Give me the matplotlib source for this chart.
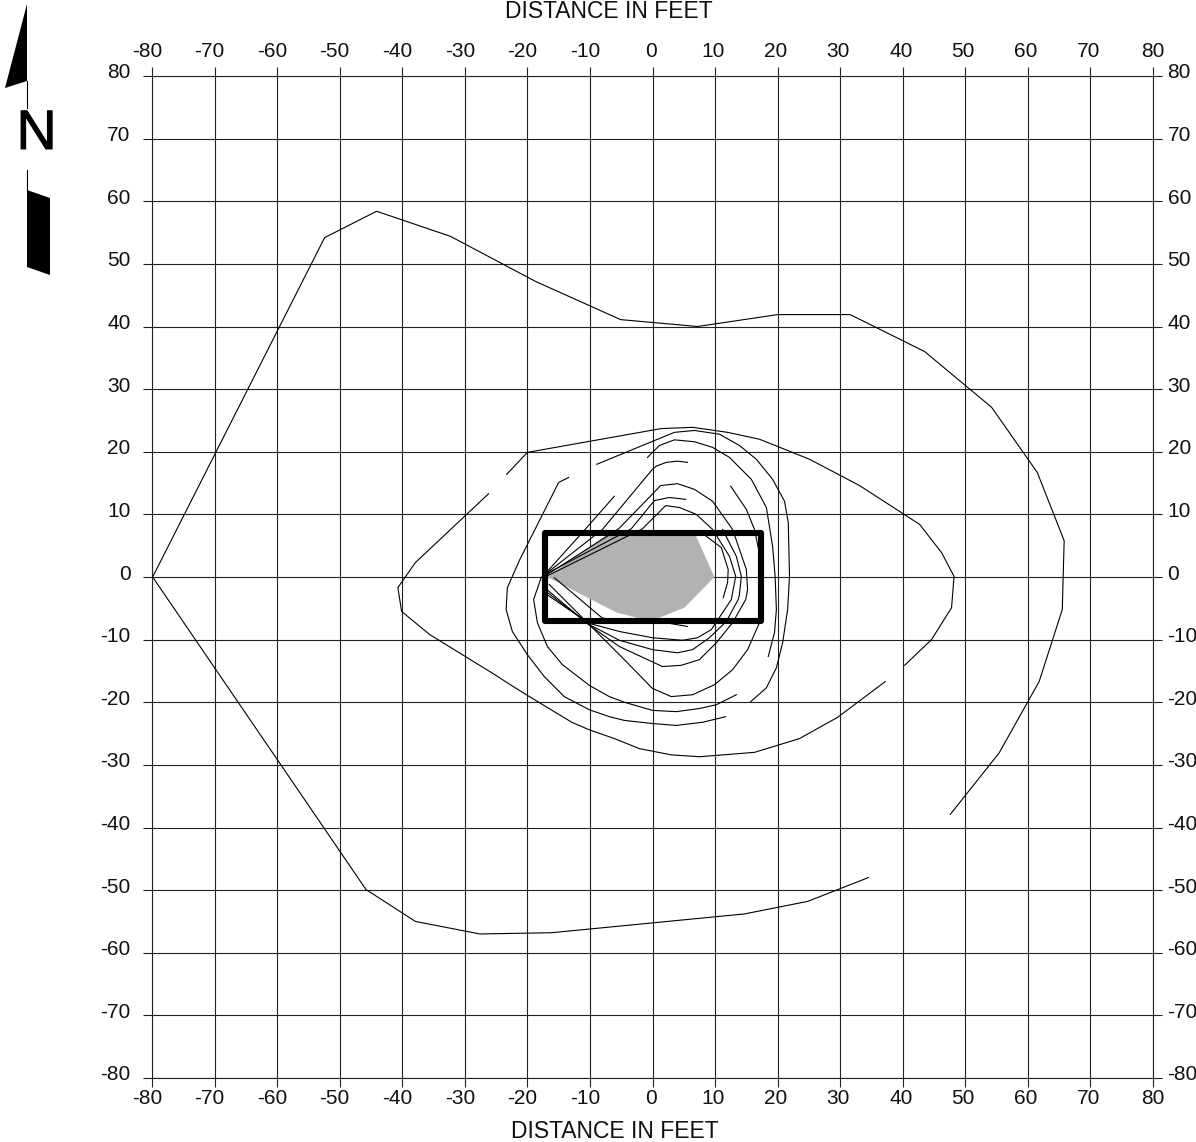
import matplotlib
matplotlib.use('Agg')
import matplotlib.pyplot as plt
import matplotlib.patheffects as pe
from matplotlib.patches import Polygon, Rectangle
from matplotlib.transforms import ScaledTranslation

plt.rcParams['font.family'] = ['Liberation Sans', 'DejaVu Sans']

W, H = 1196, 1142
ticks = list(range(-80, 90, 10))
tick_labels = [str(t) for t in ticks]
axis_title = 'DISTANCE IN FEET'

outer_x = [47.6, 55.4, 61.8, 65.5, 65.8, 61.5, 54.2, 43.5, 31.6, 20, 7.2, -5.1, -18.7, -32.3, -44.1, -52.4, -79.9, -45.8, -37.9, -27.6, -16.1, 14.7, 24.8, 34.5]
outer_y = [-37.9, -28.1, -16.7, -5.2, 5.8, 16.7, 27.1, 36, 41.9, 41.9, 40, 41.1, 47.2, 54.4, 58.4, 54.2, 0, -49.9, -55, -57, -56.8, -53.8, -51.8, -48]

b1_x = [37.2, 29.6, 23.5, 16.3, 7.5, 3, -2.1, -6.1, -10.1, -12.9, -20, -23.2, -25.2, -35.6, -40.1, -40.7, -37.9, -26.2]
b1_y = [-16.7, -22.4, -25.8, -28.0, -28.7, -28.4, -27.4, -25.8, -24.4, -23.2, -18.9, -16.9, -15.6, -9.2, -5.5, -1.7, 2.3, 13.3]
b2_x = [-23.3, -20, 1.4, 6.4, 12, 17.1, 25.1, 33.1, 42.7, 46.2, 48.2, 47.8, 44.6, 40.3]
b2_y = [16.4, 19.9, 23.7, 23.9, 23.1, 22, 18.8, 14.6, 8.4, 3.9, 0.1, -4.9, -10, -14.1]

c_x = [-8.9, 3.5, 6.7, 10.7, 13.9, 16.6, 19.2, 21.1, 21.7, 21.9, 21.6, 20.8, 19.8, 18.2, 15.7]
c_y = [18, 23.1, 23.4, 22.8, 21, 18.8, 15.6, 12.1, 8.7, 0.1, -5.2, -10.5, -14.5, -17.7, -19.9]
d_x = [-0.8, 1.1, 3.5, 6.7, 9.6, 12.3, 15.8, 18.2, 19.2, 19.6, 19.8, 19.5, 18.5]
d_y = [19.1, 21, 21.9, 21.6, 20.7, 19.1, 15.6, 11.1, 4.9, 0.1, -5.2, -8.9, -12.7]
e_x = [-13.4, -15, -21.2, -23.2, -23.4, -22.4, -20, -17.3, -14.1, -10.1, -6.9, -4.5, 0, 3.8, 8, 11.7]
e_y = [15.9, 15.1, 2.8, -1.7, -5.2, -8.7, -12.4, -15.9, -19.1, -21.2, -22.3, -22.9, -23.4, -23.7, -23.2, -22.3]
f_x = [-6.1, -10.5, -16.8, -17.8, -19, -18.4, -16.8, -14.4, -10.1, -6.9, -4.5, 0, 3.8, 7.5, 10.2, 13.4]
f_y = [12.9, 7.9, 0.9, -0.1, -3.6, -7.3, -11.1, -14, -17.3, -19.1, -20, -21.3, -21.5, -21, -20.4, -18.8]
g_x = [12.5, 15, 16.3, 17.3, 17.6, 17.1, 15.2, 12.8, 9.9, 6.4, 3, 0, -4.5, -16.5]
g_y = [14.5, 10.8, 7.6, 2.8, -3.1, -7.3, -11.6, -14.8, -17.2, -18.8, -19.1, -17.8, -13.2, -1.2]
h_x = [-16.8, -8, 0, 0.6, 2.2, 4, 5.6]
h_y = [0.7, 7.6, 17.2, 17.7, 18.3, 18.5, 18.3]
j_x = [-16.8, -3.4, 0.3, 2.7, 5.3]
j_y = [0.6, 7.7, 12.2, 12.7, 12.4]
k_x = [-16.8, -5.4, 1.3, 4, 6.7, 9.6, 12.8, 15, 15.2, 14.9, 12.8, 10.2, 7.5, 4.6, 1.6, -5.3, -10.1, -16.9]
k_y = [0.4, 7.7, 14.6, 14.9, 14, 12.1, 7.6, 1.2, -2, -3.6, -7.3, -10.5, -13.2, -14.1, -14.3, -11.1, -7.7, -2]
i_x = [-16.8, -1.6, 2.1, 4.3, 7, 9.6, 12.3, 13.3, 12.8, 12.6, 9.4, 7.2, 4.8, 0, -5.3, -10.1, -16.9]
i_y = [0.2, 7.7, 11.4, 11.1, 10, 7.6, 3.3, 0.1, -2.5, -3.6, -8.4, -9.7, -10.1, -9.7, -8.7, -7.4, -2.8]
m_x = [11.2, 13.4, 14.2, 13.9, 13.7, 11.8, 9.1, 6.4, 4, 0, -5.3, -10.1, -16.9]
m_y = [7.6, 3.3, 0.1, -2.8, -3.6, -7.1, -9.7, -11.6, -12.1, -11.6, -10.1, -7.6, -2.4]
n_x = [8.6, 11, 12.1, 12, 11.3]
n_y = [6.5, 4.7, 1.2, -0.9, -3.3]
p_x = [-15.7, -8.1, -4, 2.7, 5.6]
p_y = [-0.1, -6.5, -7.4, -7.4, -7.9]

contours = [(outer_x, outer_y), (b1_x, b1_y), (b2_x, b2_y), (c_x, c_y), (d_x, d_y), (e_x, e_y),
            (f_x, f_y), (g_x, g_y), (h_x, h_y), (j_x, j_y), (k_x, k_y), (i_x, i_y),
            (m_x, m_y), (n_x, n_y), (p_x, p_y)]

shade_x = [-16.8, -6.8, 6.7, 9.9, 5.1, 1.1, -2.1, -5.7]
shade_y = [0, 7.1, 7.1, 0, -4.9, -6.5, -6.6, -5.7]

room_x = [-17.2, 17.3]
room_y = [-7.1, 7.1]

fig = plt.figure(figsize=(W / 100, H / 100), dpi=100)
ax = fig.add_axes([152 / W, 1 - 1078 / H, 1001 / W, 1002 / H])
ax.set_xlim(-80, 80)
ax.set_ylim(-80, 80)

ax.set_xticks(ticks)
ax.set_xticklabels(tick_labels)
ax.set_yticks(ticks)
ax.set_yticklabels(tick_labels)
ax.grid(True, color='#222222', lw=0.8)
ax.set_axisbelow(True)
ax.tick_params(length=6.5, width=0.8, color='#222222', labelsize=15, labelcolor='#111111',
               top=True, right=True, labeltop=True, labelright=True, pad=4)
for s in ax.spines.values():
    s.set_linewidth(0.8)
    s.set_color('#222222')


def shift(lbl, dx, dy):
    lbl.set_transform(lbl.get_transform() + ScaledTranslation(dx / 100, dy / 100, fig.dpi_scale_trans))


for t, tk in zip(ticks, ax.xaxis.get_major_ticks()):
    dx = -5 if t < 0 else (-2 if t < 80 else 0)
    shift(tk.label1, dx, 4)
    shift(tk.label2, dx, 0)
for tk in ax.yaxis.get_major_ticks():
    shift(tk.label1, -7, 5)
    shift(tk.label2, 0, 5)

ax.fill(shade_x, shade_y, color='#b2b2b2', lw=0, zorder=3)
for cx, cy in contours:
    ax.plot(cx, cy, color='black', lw=0.8, zorder=4)
ax.add_patch(Rectangle((room_x[0], room_y[0]), room_x[1] - room_x[0], room_y[1] - room_y[0],
                       fill=False, ec='black', lw=4.4, joinstyle='round', zorder=5))

fig.text(609 / W, 1 - 11 / H, axis_title, fontsize=16.5, ha='center', va='center', color='#111111')
fig.text(615 / W, 1 - 1131 / H, axis_title, fontsize=16.5, ha='center', va='center', color='#111111')

# north arrow, in picture pixels
arrow_top = [(27, 4), (27, 81), (5, 88)]
arrow_bottom = [(27, 190), (50, 198), (50, 275), (27, 267)]
na = fig.add_axes([0, 0, 1, 1], facecolor='none')
na.set_xlim(0, W)
na.set_ylim(H, 0)
na.axis('off')
na.add_patch(Polygon(arrow_top, fc='black', ec='none'))
na.add_patch(Polygon(arrow_bottom, fc='black', ec='none'))
na.plot([27, 27], [81, 108], color='black', lw=0.8)
na.plot([27, 27], [170, 190], color='black', lw=0.8)
na.text(36.5, 149, 'N', fontsize=40, ha='center', va='baseline', color='black',
        path_effects=[pe.withStroke(linewidth=0.7, foreground='black')])

fig.savefig('out.png', dpi=100)
